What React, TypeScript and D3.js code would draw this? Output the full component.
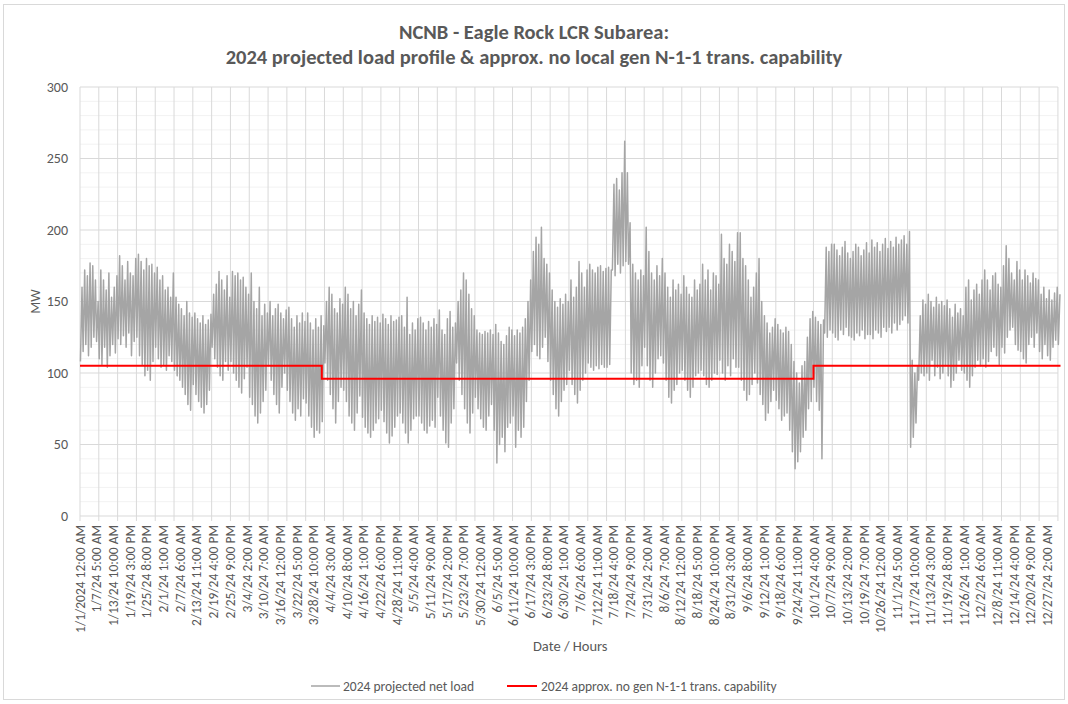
import React from "react";
import * as d3 from "d3";

// daily readings (night low / evening peak), MW, one entry per day
const janHigh = [160,172,168,177,175,165,150, 172,165,158,170,153,160,168, 182,175,165,178,170,168,180, 183,178,172,180,175,176,170, 174,165,168];
const janLow  = [108,115,120,112,118,125,122, 110,106,118,104,112,120,114, 124,120,126,118,128,112,122, 125,112,106,98,102,95,108, 118,110,104];
const febHigh = [158,160,153,170, 153,148,145,140,150,142,139, 142,138,135,140,134,137,141, 155,162,171,165,158,168,153, 171,168,170];
const febLow  = [106,102,112,108, 102,98,95,90,85,78,74, 92,85,80,76,72,78,88, 118,110,104,98,95,108,102, 108,100,95];
const marHigh = [165,167,160,155, 170,150,145,160,140,148,142, 150,140,145,148,142,138,144, 146,138,132,140,135,142,136, 142,135,130,138,132,140];
const marLow  = [90,86,96,104, 83,78,70,65,72,80,88, 105,95,85,78,72,90,100, 88,80,72,67,75,70,82, 79,70,62,55,60,58];
const aprHigh = [133, 150,160,155,145,142,152,148, 160,155,145,150,140,148,158, 142,138,134,140,136,139,135, 141,138,134,140,136,137,139, 140];
const aprLow  = [66, 107,95,85,75,65,80,90, 88,80,70,65,60,72,84, 69,62,58,55,60,65,68, 74,66,58,51,56,62,70, 72];
const mayHigh = [132,153,127,135,130,138, 139,135,130,136,132,138,134, 144,130,127,138,143,132,135, 150,158,170,165,155,145,140, 130,128,127,129];
const mayLow  = [65,58,51,60,68,70, 70,65,60,58,63,67,62, 83,70,60,51,48,65,75, 107,95,85,75,65,58,72, 83,75,68,62];
const junHigh = [128,130,127, 134,128,122,120,126,132,130, 126,130,128,132,138,150,165, 185,195,190,202,180,176,170, 158,150,146,152,148,155];
const junLow  = [60,70,78, 60,37,50,55,45,62,65, 70,48,60,55,62,80,95, 115,120,112,110,118,125,108, 95,85,75,70,80,88];
const julHigh = [150, 165,153,160,178,170,160,172, 176,172,170,174,175,171,173, 174,172,232,236,228,240,262, 240,205,176,170,165,172,168, 202,185];
const julLow  = [92, 102,92,85,79,88,95,100, 107,104,102,105,103,106,104, 104,106,172,168,176,170,175, 178,176,100,92,95,90,105, 118,105];
const augHigh = [170,165,175,168,180, 170,160,153,165,158,162,155, 168,160,155,153,165,158,162, 176,165,172,158,170,168,162, 197,180,176,190,185];
const augLow  = [95,90,100,110,112, 107,95,83,79,88,92,100, 102,95,88,83,90,98,100, 102,98,92,90,95,100,99, 109,100,95,105,98];
const sepHigh = [178,198, 198,180,175,165,153,160,170, 180,150,140,135,128,132,138, 134,130,128,132,129,120,108, 100,93,105,108,125,138,143];
const sepLow  = [110,104, 104,95,88,81,85,92,100, 93,85,78,67,72,80,88, 81,75,67,70,72,60,45, 33,38,45,55,60,75,80];
const octHigh = [139,136,134,137,188,185,190, 190,186,182,188,192,184,180, 185,190,188,182,186,191,184, 193,188,191,185,190,194,187, 192,188,195];
const octLow  = [90,80,74,40,128,125,130, 128,125,123,130,127,132,126, 125,123,128,126,130,124,127, 127,124,130,128,125,132,129, 132,128,135];
const novHigh = [190,193,196,190, 199,109,100,105,140,151,148, 155,150,146,153,148,150,147, 151,145,139,148,142,145,140, 160,165,151,158,162];
const novLow  = [130,134,137,140, 135,48,55,65,95,100,98, 100,95,109,98,104,96,100, 105,98,90,95,100,109,102, 100,95,90,98,104];
const decHigh = [155,165, 172,165,158,168,170,162,160, 175,189,180,170,165,178,172, 165,172,168,163,170,166,165, 155,160,152,158,151,156,160, 155];
const decLow  = [109,105, 110,104,108,115,118,112,106, 118,114,125,130,132,120,116, 115,110,107,120,125,118,128, 115,110,120,112,109,118,123, 120];

// capability steps (start hour, MW)
const capStartHour = [0, 2160, 6552];
const capValue = [105, 96, 105];

const tickLabels = [
  "1/1/2024 12:00 AM", "1/7/24 5:00 AM", "1/13/24 10:00 AM", "1/19/24 3:00 PM", "1/25/24 8:00 PM",
  "2/1/24 1:00 AM", "2/7/24 6:00 AM", "2/13/24 11:00 AM", "2/19/24 4:00 PM", "2/25/24 9:00 PM",
  "3/4/24 2:00 AM", "3/10/24 7:00 AM", "3/16/24 12:00 PM", "3/22/24 5:00 PM", "3/28/24 10:00 PM",
  "4/4/24 3:00 AM", "4/10/24 8:00 AM", "4/16/24 1:00 PM", "4/22/24 6:00 PM", "4/28/24 11:00 PM",
  "5/5/24 4:00 AM", "5/11/24 9:00 AM", "5/17/24 2:00 PM", "5/23/24 7:00 PM", "5/30/24 12:00 AM",
  "6/5/24 5:00 AM", "6/11/24 10:00 AM", "6/17/24 3:00 PM", "6/23/24 8:00 PM", "6/30/24 1:00 AM",
  "7/6/24 6:00 AM", "7/12/24 11:00 AM", "7/18/24 4:00 PM", "7/24/24 9:00 PM", "7/31/24 2:00 AM",
  "8/6/24 7:00 AM", "8/12/24 12:00 PM", "8/18/24 5:00 PM", "8/24/24 10:00 PM", "8/31/24 3:00 AM",
  "9/6/24 8:00 AM", "9/12/24 1:00 PM", "9/18/24 6:00 PM", "9/24/24 11:00 PM", "10/1/24 4:00 AM",
  "10/7/24 9:00 AM", "10/13/24 2:00 PM", "10/19/24 7:00 PM", "10/26/24 12:00 AM", "11/1/24 5:00 AM",
  "11/7/24 10:00 AM", "11/13/24 3:00 PM", "11/19/24 8:00 PM", "11/26/24 1:00 AM", "12/2/24 6:00 AM",
  "12/8/24 11:00 AM", "12/14/24 4:00 PM", "12/20/24 9:00 PM", "12/27/24 2:00 AM",
];

const HOURS = 8760;
const LABEL_EVERY = 149;
const TICK_EVERY = 168;
const LOW_HOUR = 4;
const PEAK_HOUR = 18;

const W = 1068;
const H = 704;
const left = 80, right = 1060.5, top = 87, bottom = 516;
const font = "Carlito, Calibri, Lato, sans-serif";
const textColor = "#595959";
const gridColor = "#D9D9D9";

export default function App() {
  const highs = [janHigh, febHigh, marHigh, aprHigh, mayHigh, junHigh, julHigh, augHigh, sepHigh, octHigh, novHigh, decHigh].flat();
  const lows = [janLow, febLow, marLow, aprLow, mayLow, junLow, julLow, augLow, sepLow, octLow, novLow, decLow].flat();

  const x = d3.scaleLinear().domain([0, HOURS - 1]).range([left, right]);
  const y = d3.scaleLinear().domain([0, 300]).range([bottom, top]);

  const load = lows.flatMap((lo, d) => [
    { h: d * 24 + LOW_HOUR, v: lo },
    { h: d * 24 + PEAK_HOUR, v: highs[d] },
  ]);
  const cap = capStartHour.map((h, i) => ({ h, v: capValue[i] }));
  cap.push({ h: HOURS - 1, v: capValue[capValue.length - 1] });

  const line = d3.line<{ h: number; v: number }>().x(d => x(d.h)).y(d => y(d.v));
  const stepLine = d3.line<{ h: number; v: number }>().x(d => x(d.h)).y(d => y(d.v)).curve(d3.curveStepAfter);

  const minor = d3.range(0, 301, 10).filter(v => v % 50 !== 0);
  const major = d3.range(0, 301, 50);
  const weekTicks = d3.range(0, HOURS, TICK_EVERY);
  const gridRight = x(weekTicks[weekTicks.length - 1]);

  return (
    <svg width={W} height={H} style={{ position: "fixed", left: 0, top: 0, background: "#fff" }} fontFamily={font}>
      <rect x={3.5} y={4.5} width={W - 7} height={H - 9} fill="#fff" stroke={gridColor} />
      <text x={534} y={39} textAnchor="middle" fontSize={20.5} fontWeight="bold" fill={textColor}>
        NCNB - Eagle Rock LCR Subarea:
      </text>
      <text x={534} y={64} textAnchor="middle" fontSize={20.5} fontWeight="bold" fill={textColor}>
        2024 projected load profile &amp; approx. no local gen N-1-1 trans. capability
      </text>

      {minor.map(v => (
        <line key={"m" + v} x1={left} x2={gridRight} y1={y(v)} y2={y(v)} stroke="#F2F2F2" />
      ))}
      {weekTicks.map(h => (
        <line key={"v" + h} x1={x(h)} x2={x(h)} y1={top} y2={bottom + 5} stroke={gridColor} />
      ))}
      {major.map(v => (
        <line key={"M" + v} x1={left} x2={gridRight} y1={y(v)} y2={y(v)} stroke={gridColor} />
      ))}

      {major.map(v => (
        <text key={"yt" + v} x={68} y={y(v)} dy="0.35em" textAnchor="end" fontSize={14} fill={textColor}>
          {v}
        </text>
      ))}
      <text transform={`translate(40, ${(top + bottom) / 2}) rotate(-90)`} textAnchor="middle" fontSize={14} fill={textColor}>
        MW
      </text>

      {tickLabels.map((t, i) => (
        <text
          key={"xt" + i}
          transform={`translate(${x(i * LABEL_EVERY)}, ${bottom + 9}) rotate(-90)`}
          dy="0.35em"
          textAnchor="end"
          fontSize={13.5}
          fill={textColor}
        >
          {t}
        </text>
      ))}
      <text x={(left + right) / 2} y={651} textAnchor="middle" fontSize={14.5} fill={textColor}>
        Date / Hours
      </text>

      <path d={line(load) || ""} fill="none" stroke="#A5A5A5" strokeWidth={1.5} strokeLinejoin="round" />
      <path d={stepLine(cap) || ""} fill="none" stroke="#FF0000" strokeWidth={2} />

      <g fontSize={13.5} fill={textColor}>
        <line x1={311} x2={340} y1={686} y2={686} stroke="#A5A5A5" strokeWidth={1.5} />
        <text x={343} y={686} dy="0.35em">2024 projected net load</text>
        <line x1={507} x2={537} y1={686} y2={686} stroke="#FF0000" strokeWidth={2} />
        <text x={541} y={686} dy="0.35em">2024 approx. no gen N-1-1 trans. capability</text>
      </g>
    </svg>
  );
}
